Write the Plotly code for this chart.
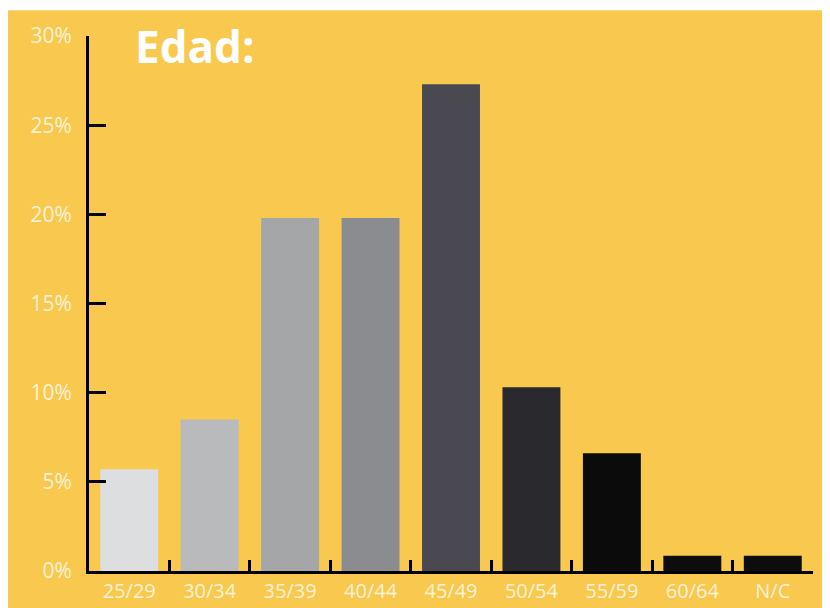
import plotly.graph_objects as go

categories = ["25/29", "30/34", "35/39", "40/44", "45/49", "50/54", "55/59", "60/64", "N/C"]
values = [5.7, 8.5, 19.8, 19.8, 27.3, 10.3, 6.6, 0.85, 0.85]
bar_colors = ["#dcdedf", "#b8babc", "#a5a6a8", "#8b8c8f", "#4a4850", "#2a292d", "#0b0b0b", "#0d0d0d", "#0d0d0d"]
y_ticks = [0, 5, 10, 15, 20, 25, 30]
y_tick_labels = [f"{v}%" for v in y_ticks]
title_text = "Edad:"

bg = "#F8C84F"
label_color = "#FDF3D6"

# plot area (figure pixels): left 81, right 805, top 28, bottom 566
fig = go.Figure(go.Bar(x=categories, y=values, marker=dict(color=bar_colors, line=dict(width=0))))

fig.update_layout(
    width=830, height=608,
    margin=dict(l=81, r=25, t=28, b=42),
    paper_bgcolor="white",
    plot_bgcolor=bg,
    bargap=0.28,
    showlegend=False,
    font=dict(family="Open Sans", color=label_color),
    shapes=[dict(type="rect", xref="paper", yref="paper", x0=-82/724, x1=1+14/724,
                 y0=-42/538, y1=1+26/538, fillcolor=bg, line=dict(width=0), layer="below")],
    annotations=[dict(text=f"<b>{title_text}</b>", xref="paper", yref="paper",
                      x=(129-81-4)/724, y=(574-46)/538, xanchor="left", yanchor="middle",
                      showarrow=False, font=dict(size=44, color="white", family="Open Sans"))],
)

fig.update_xaxes(
    type="category", showgrid=False, showline=True, linecolor="black", linewidth=3,
    ticks="inside", tickson="boundaries", ticklen=11, tickwidth=3, tickcolor="black",
    tickfont=dict(size=20, color=label_color), zeroline=False,
)
fig.update_yaxes(
    range=[0, 30], tickvals=y_ticks, ticktext=y_tick_labels, showgrid=False, zeroline=False,
    showline=True, linecolor="black", linewidth=3,
    ticks="inside", ticklen=17, tickwidth=3, tickcolor="black",
    tickfont=dict(size=21, color=label_color), ticklabelstandoff=10,
)

fig.write_html("out.html")
